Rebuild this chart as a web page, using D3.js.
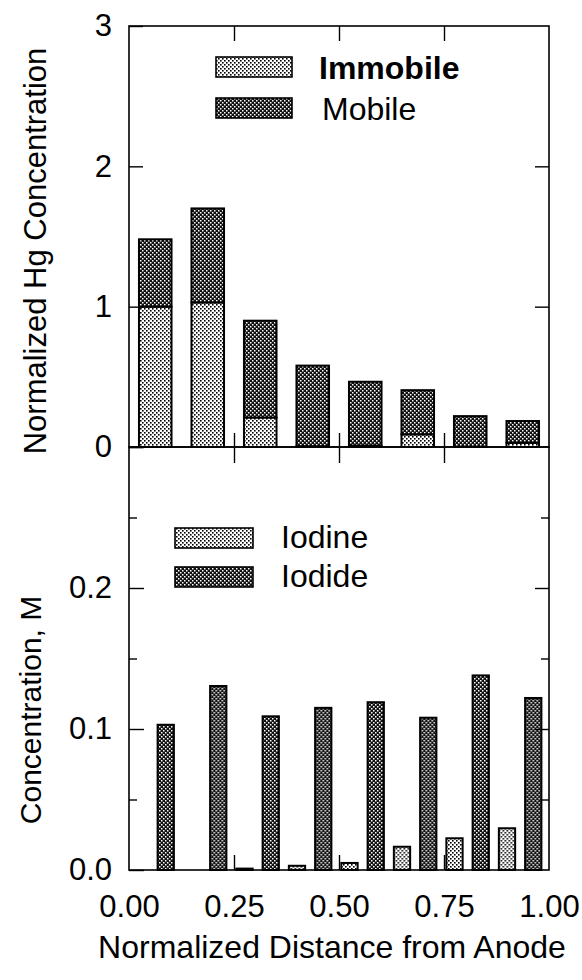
<!DOCTYPE html>
<html>
<head>
<meta charset="utf-8">
<script src="https://cdn.jsdelivr.net/npm/d3@7"></script>
<style>
  html, body { margin: 0; padding: 0; background: #fff; }
  svg { display: block; font-family: "Liberation Sans", Arial, sans-serif; }
</style>
</head>
<body>
<svg id="chart" width="582" height="980"></svg>
<script>
// segment midpoints along the cell (normalized distance from anode)
const distance = [0.0625, 0.1875, 0.3125, 0.4375, 0.5625, 0.6875, 0.8125, 0.9375];

// top panel: normalized Hg concentration, stacked
const immobile = [1.0, 1.03, 0.21, 0.005, 0.01, 0.09, 0.0, 0.03];
const mobile   = [0.48, 0.67, 0.69, 0.575, 0.455, 0.315, 0.22, 0.155];

// bottom panel: concentration, M
const iodine = [0.0, 0.0, 0.001, 0.003, 0.005, 0.0165, 0.0225, 0.0296];
const iodide = [0.103, 0.1305, 0.109, 0.115, 0.119, 0.108, 0.138, 0.122];

const xTicks = [0, 0.25, 0.5, 0.75, 1];
const hgTicks = [0, 1, 2, 3];
const concTicks = [0, 0.1, 0.2, 0.3];
const concMinor = [0.05, 0.15, 0.25];

const svg = d3.select('#chart');
const left = 129, right = 549;
const topY0 = 447, topY1 = 26;
const botY0 = 870, botY1 = 447;

// dotted fills like the original print
const defs = svg.append('defs');
const light = defs.append('pattern').attr('id', 'lightDots')
  .attr('width', 4).attr('height', 4).attr('patternUnits', 'userSpaceOnUse');
light.append('rect').attr('width', 4).attr('height', 4).attr('fill', '#fff');
light.append('rect').attr('x', 0).attr('y', 0).attr('width', 1.6).attr('height', 1.6).attr('fill', '#000');
light.append('rect').attr('x', 2).attr('y', 2).attr('width', 1.6).attr('height', 1.6).attr('fill', '#000');

const dark = defs.append('pattern').attr('id', 'darkDots')
  .attr('width', 4).attr('height', 4).attr('patternUnits', 'userSpaceOnUse');
dark.append('rect').attr('width', 4).attr('height', 4).attr('fill', '#111');
dark.append('rect').attr('x', 0).attr('y', 0).attr('width', 1.5).attr('height', 1.5).attr('fill', '#fff');
dark.append('rect').attr('x', 2).attr('y', 2).attr('width', 1.5).attr('height', 1.5).attr('fill', '#fff');

const x = d3.scaleLinear().domain([0, 1]).range([left, right]);
const yHg = d3.scaleLinear().domain([0, 3]).range([topY0, topY1]);
const yC = d3.scaleLinear().domain([0, 0.3]).range([botY0, botY1]);

const seg = d3.scaleBand().domain(distance).range([x(0), x(1)]);
const stackBand = d3.scaleBand().domain(distance).range([x(0), x(1)])
  .paddingInner(0.38).paddingOuter(0.19);
const bw = seg.bandwidth();
const sub = d3.scaleBand().domain(['iodine', 'iodide'])
  .range([-0.05 * bw, 0.95 * bw]).paddingInner(0.38).paddingOuter(0.19);

// ---- top panel: stacked bars
const hgRows = distance.map((d, i) => ({ d, immobile: immobile[i], mobile: mobile[i] }));
const stacked = d3.stack().keys(['immobile', 'mobile'])(hgRows);
const fills = { immobile: 'url(#lightDots)', mobile: 'url(#darkDots)' };

svg.append('g').selectAll('g')
  .data(stacked)
  .join('g')
  .attr('fill', s => fills[s.key])
  .selectAll('rect')
  .data(s => s.filter(p => p[1] - p[0] > 0))
  .join('rect')
  .attr('x', p => stackBand(p.data.d))
  .attr('width', stackBand.bandwidth())
  .attr('y', p => yHg(p[1]))
  .attr('height', p => yHg(p[0]) - yHg(p[1]))
  .attr('stroke', '#000')
  .attr('stroke-width', 2);

// ---- bottom panel: grouped bars
const concRows = distance.map((d, i) => ({ d, iodine: iodine[i], iodide: iodide[i] }));
const concFill = { iodine: 'url(#lightDots)', iodide: 'url(#darkDots)' };
svg.append('g').selectAll('g')
  .data(concRows)
  .join('g')
  .attr('transform', r => `translate(${seg(r.d)},0)`)
  .selectAll('rect')
  .data(r => ['iodine', 'iodide'].map(k => ({ k, v: r[k] })).filter(e => e.v > 0))
  .join('rect')
  .attr('x', e => sub(e.k))
  .attr('width', sub.bandwidth())
  .attr('y', e => yC(e.v))
  .attr('height', e => yC(0) - yC(e.v))
  .attr('fill', e => concFill[e.k])
  .attr('stroke', '#000')
  .attr('stroke-width', 2);

// ---- frames
svg.append('rect').attr('x', left).attr('y', topY1).attr('width', right - left).attr('height', topY0 - topY1)
  .attr('fill', 'none').attr('stroke', '#000').attr('stroke-width', 1.6);
svg.append('rect').attr('x', left).attr('y', botY1).attr('width', right - left).attr('height', botY0 - botY1)
  .attr('fill', 'none').attr('stroke', '#000').attr('stroke-width', 1.6);

function styleAxis(g) {
  g.select('.domain').remove();
  g.selectAll('line').attr('stroke', '#000').attr('stroke-width', 1.4);
  g.selectAll('text').attr('fill', '#000').style('font-family', '"Liberation Sans", Arial, sans-serif');
}

// top panel y axes
svg.append('g').attr('transform', `translate(${left},0)`)
  .call(d3.axisLeft(yHg).tickValues(hgTicks).tickSize(-14).tickPadding(17).tickFormat(d3.format('d')))
  .call(styleAxis)
  .selectAll('text').style('font-size', '31px');
svg.append('g').attr('transform', `translate(${right},0)`)
  .call(d3.axisRight(yHg).tickValues([1, 2]).tickSize(-14).tickFormat(''))
  .call(styleAxis);

// top border ticks and shared boundary ticks
svg.append('g').attr('transform', `translate(0,${topY1})`)
  .call(d3.axisTop(x).tickValues([0.25, 0.5, 0.75]).tickSize(-15).tickFormat(''))
  .call(styleAxis);
svg.append('g').attr('transform', `translate(0,${topY0})`)
  .call(d3.axisBottom(x).tickValues([0.25, 0.5, 0.75]).tickSize(-14).tickFormat(''))
  .call(styleAxis);
svg.append('g').attr('transform', `translate(0,${botY1})`)
  .call(d3.axisTop(x).tickValues([0.25, 0.5, 0.75]).tickSize(-16).tickFormat(''))
  .call(styleAxis);

// bottom panel y axes
svg.append('g').attr('transform', `translate(${left},0)`)
  .call(d3.axisLeft(yC).tickValues(concTicks).tickSize(-15).tickPadding(17)
    .tickFormat(d => d === 0.3 ? '' : d3.format('.1f')(d)))
  .call(styleAxis)
  .selectAll('text').style('font-size', '31px');
svg.append('g').attr('transform', `translate(${left},0)`)
  .call(d3.axisLeft(yC).tickValues(concMinor).tickSize(-8).tickFormat(''))
  .call(styleAxis);
svg.append('g').attr('transform', `translate(${right},0)`)
  .call(d3.axisRight(yC).tickValues([0.1, 0.2]).tickSize(-14).tickFormat(''))
  .call(styleAxis);
svg.append('g').attr('transform', `translate(${right},0)`)
  .call(d3.axisRight(yC).tickValues(concMinor).tickSize(-8).tickFormat(''))
  .call(styleAxis);

// bottom x axis
const xAxisG = svg.append('g').attr('transform', `translate(0,${botY0})`)
  .call(d3.axisBottom(x).tickValues(xTicks).tickSize(-15).tickPadding(25).tickFormat(d3.format('.2f')))
  .call(styleAxis);
xAxisG.selectAll('text').style('font-size', '31px');
xAxisG.selectAll('.tick line').filter(d => d === 0 || d === 1).remove();

// ---- axis titles
svg.append('text').attr('x', 332).attr('y', 958).attr('text-anchor', 'middle')
  .style('font-size', '32px').text('Normalized Distance from Anode');
svg.append('text').attr('transform', 'translate(46,251) rotate(-90)').attr('text-anchor', 'middle')
  .style('font-size', '31px').text('Normalized Hg Concentration');
svg.append('text').attr('transform', 'translate(41,710) rotate(-90)').attr('text-anchor', 'middle')
  .style('font-size', '30px').text('Concentration, M');

// ---- legends
const legendTop = [
  { label: 'Immobile', fill: 'url(#lightDots)', y: 57, bold: true, tx: 319 },
  { label: 'Mobile', fill: 'url(#darkDots)', y: 98, bold: false, tx: 322 }
];
const lt = svg.append('g').selectAll('g').data(legendTop).join('g');
lt.append('rect').attr('x', 216).attr('y', d => d.y).attr('width', 76).attr('height', 20)
  .attr('fill', d => d.fill).attr('stroke', '#000').attr('stroke-width', 1.6);
lt.append('text').attr('x', d => d.tx).attr('y', d => d.y + 22)
  .style('font-size', '32px').style('font-weight', d => d.bold ? 'bold' : 'normal')
  .text(d => d.label);

const legendBot = [
  { label: 'Iodine', fill: 'url(#lightDots)', y: 528 },
  { label: 'Iodide', fill: 'url(#darkDots)', y: 567 }
];
const lb = svg.append('g').selectAll('g').data(legendBot).join('g');
lb.append('rect').attr('x', 175).attr('y', d => d.y).attr('width', 78).attr('height', 20)
  .attr('fill', d => d.fill).attr('stroke', '#000').attr('stroke-width', 1.6);
lb.append('text').attr('x', 281).attr('y', d => d.y + 20)
  .style('font-size', '32px').text(d => d.label);
</script>
</body>
</html>
